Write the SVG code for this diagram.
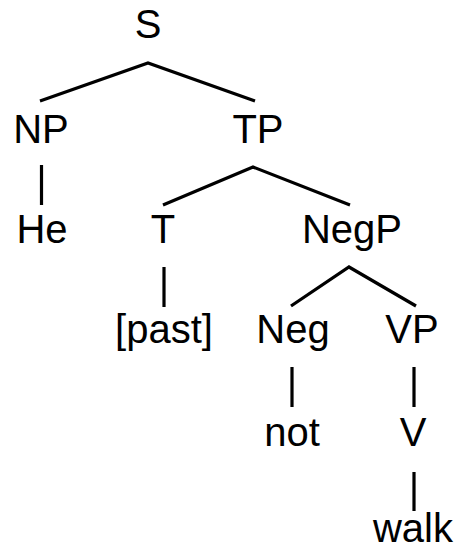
<svg xmlns="http://www.w3.org/2000/svg" width="456" height="551" viewBox="0 0 456 551">
<style>
text{font-family:"Liberation Sans",Arial,sans-serif;font-size:40px;fill:#000;text-anchor:middle}
#edges line,#edges polyline{stroke:#000;stroke-width:3.2;fill:none;stroke-linecap:butt}
</style>
<rect width="456" height="551" fill="#fff"/>
<g id="edges">
<polyline points="40,101 148,63 255,101"/>
<line x1="41.5" y1="165" x2="41.5" y2="205"/>
<polyline points="163,205 253,167 350,205"/>
<line x1="164" y1="267" x2="164" y2="307"/>
<polyline points="291,306 349,267 416,306"/>
<line x1="292" y1="367" x2="292" y2="407"/>
<line x1="414" y1="367" x2="414" y2="407"/>
<line x1="414" y1="472" x2="414" y2="511"/>
</g>
<g id="S"><text x="148" y="38">S</text></g>
<g id="NP"><text x="41" y="143">NP</text></g>
<g id="TP"><text x="258" y="143">TP</text></g>
<g id="He"><text x="42" y="243">He</text></g>
<g id="T"><text x="163" y="243">T</text></g>
<g id="NegP"><text x="352" y="243">NegP</text></g>
<g id="past"><text x="164" y="343">[past]</text></g>
<g id="Neg"><text x="293" y="343">Neg</text></g>
<g id="VP"><text x="412" y="343">VP</text></g>
<g id="not"><text x="292" y="446">not</text></g>
<g id="V"><text x="413" y="446">V</text></g>
<g id="walk"><text x="413" y="542">walk</text></g>
</svg>
